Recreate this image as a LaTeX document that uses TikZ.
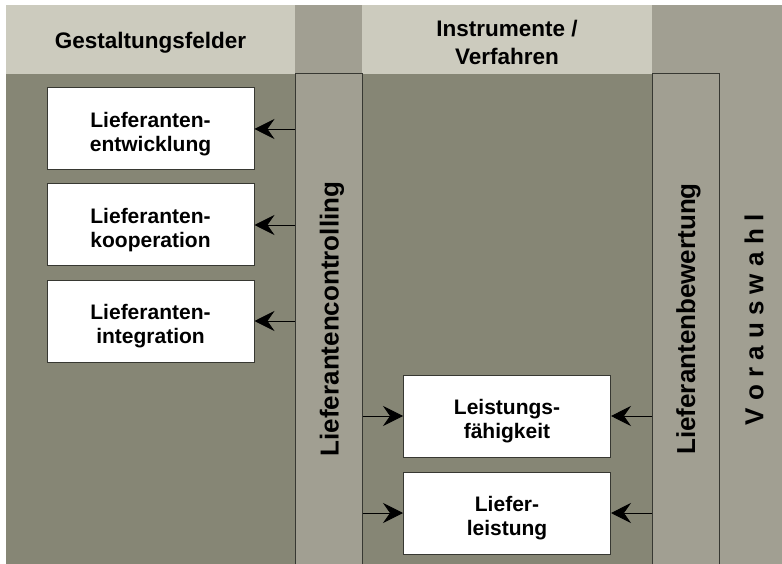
\documentclass[tikz,border=0pt]{standalone}
\usepackage{fontspec}
\setmainfont{Liberation Sans}
\usepackage{xcolor}
\usetikzlibrary{positioning,
	calc,
	arrows.meta}
\definecolor{headlight}{RGB}{204,203,190}
\definecolor{colgray}{RGB}{161,159,146}
\definecolor{fielddark}{RGB}{134,134,117}
\definecolor{edgegray}{RGB}{55,56,50}
\newcommand{\boxstrut}{\rule{0pt}{26pt}}
\tikzstyle{field box}=[rectangle, draw=edgegray, fill=white, line width=1pt, minimum
	width=207pt, minimum height=82pt, inner sep=0, align=center,
	font=\fontsize{21}{24}\selectfont\bfseries]
\tikzstyle{column}=[rectangle, draw=edgegray, fill=colgray, line width=1pt,
	minimum width=67pt, minimum height=490pt, inner sep=0]
\tikzstyle{coltext}=[rotate=90, inner sep=0, font=\fontsize{26}{30}\selectfont\bfseries]
\tikzstyle{headtext}=[align=center, inner sep=0, font=\fontsize{22.5}{28}\selectfont\bfseries]
\tikzstyle{farrow}=[-{Stealth[length=20pt, width=20pt, inset=7pt]}, line width=0.8pt]

\begin{document}
\begin{tikzpicture}[x=1pt, y=-1pt]
            \useasboundingbox (0,0) rectangle (782,564);
            \fill[headlight] (6,5) rectangle (652,74);
            \fill[colgray] (295,5) rectangle (362,74);
            \fill[colgray] (652,5) rectangle (782,564);
            \fill[fielddark] (6,74) rectangle (652,564);
            \node[headtext] (gest) at (150.5,42.5) {Gestaltungsfelder};
            \node[headtext] (instr) at (507,42) {Instrumente /\\Verfahren};
            \node[column] (ctrl) at (328.5,319) {};
            \node[column] (bew) at (685.5,319) {};
            \node[coltext] (ctrltext) at ($(ctrl)+(3.5,0)$) {Lieferantencontrolling};
            \node[coltext] (bewtext) at ($(bew)+(3,0)$) {Lieferantenbewertung};
            \node[coltext] (voraus) at (754,320) {V o r a u s w a h l};
            \node[field box] (entw) at (150.5,129) {\boxstrut Lieferanten-\\entwicklung};
            \node[field box, below=13pt of entw] (koop) {\boxstrut Lieferanten-\\kooperation};
            \node[field box, below=13pt of koop] (integ) {\boxstrut Lieferanten-\\integration};
            \node[field box] (leist) at (507,416) {\boxstrut Leistungs-\\fähigkeit};
            \node[field box, below=14pt of leist] (liefer) {\boxstrut Liefer-\\leistung};
            \draw[farrow] (ctrl.west |- entw.east) to (entw.east);
            \draw[farrow] (ctrl.west |- koop.east) to (koop.east);
            \draw[farrow] (ctrl.west |- integ.east) to (integ.east);
            \draw[farrow] (ctrl.east |- leist.west) to (leist.west);
            \draw[farrow] (ctrl.east |- liefer.west) to (liefer.west);
            \draw[farrow] (bew.west |- leist.east) to (leist.east);
            \draw[farrow] (bew.west |- liefer.east) to (liefer.east);
        \end{tikzpicture}
\end{document}
